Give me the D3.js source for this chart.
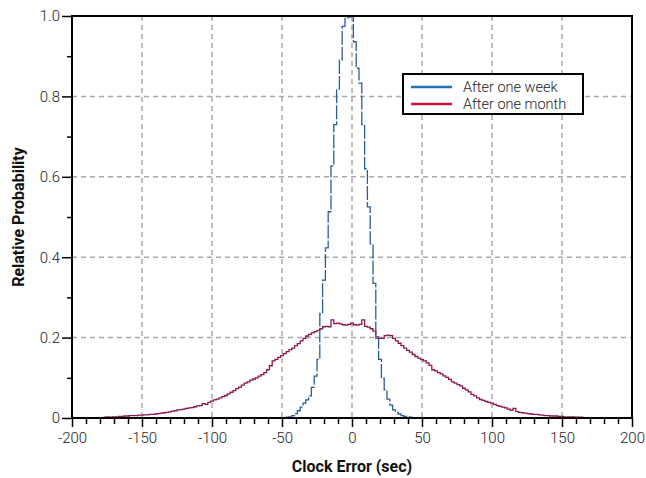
<!DOCTYPE html>
<html>
<head>
<meta charset="utf-8">
<script src="https://cdn.jsdelivr.net/npm/d3@7"></script>
<style>
  body { margin: 0; background: #fff; }
  svg { display: block; }
  .tick text { font-family: Roboto, sans-serif; font-weight: 300; font-size: 15px; fill: #222; }
</style>
</head>
<body>
<div id="chart"></div>
<script>
// histogram bins are 2 sec wide; first array value sits at the bin starting at the given left edge
const binWidth = 2;

const weekStart = -49;
const weekValues = [
    0.001, 0.002, 0.003, 0.006, 0.011, 0.018, 0.027, 0.037, 0.045, 0.055,
    0.076, 0.104, 0.146, 0.26, 0.343, 0.423, 0.513, 0.627, 0.73, 0.818,
    0.89, 0.974, 0.994, 0.997, 1.0, 0.936, 0.87, 0.833, 0.73, 0.62,
    0.525, 0.433, 0.335, 0.198, 0.146, 0.099, 0.07, 0.047, 0.032, 0.02,
    0.014, 0.01, 0.006, 0.004, 0.003, 0.002, 0.001
];

const monthStart = -179;
const monthValues = [
    0.001, 0.002, 0.003, 0.002, 0.003, 0.003, 0.004, 0.004, 0.005, 0.005,
    0.006, 0.006, 0.006, 0.007, 0.007, 0.008, 0.008, 0.009, 0.009, 0.010,
    0.011, 0.012, 0.013, 0.014, 0.015, 0.017, 0.018, 0.020, 0.021, 0.022,
    0.024, 0.025, 0.026, 0.028, 0.030, 0.031, 0.036, 0.034, 0.039, 0.042,
    0.045, 0.047, 0.050, 0.053, 0.056, 0.060, 0.064, 0.068, 0.073, 0.077,
    0.082, 0.087, 0.090, 0.094, 0.097, 0.100, 0.104, 0.108, 0.113, 0.120,
    0.130, 0.142, 0.146, 0.151, 0.155, 0.160, 0.165, 0.170, 0.174, 0.180,
    0.185, 0.192, 0.198, 0.204, 0.208, 0.212, 0.215, 0.218, 0.222, 0.227,
    0.228, 0.227, 0.244, 0.235, 0.236, 0.234, 0.232, 0.231, 0.233, 0.236,
    0.232, 0.231, 0.233, 0.244, 0.228, 0.226, 0.222, 0.216, 0.202, 0.198,
    0.198, 0.205, 0.206, 0.205, 0.198, 0.192, 0.186, 0.180, 0.174, 0.168,
    0.164, 0.158, 0.153, 0.149, 0.145, 0.142, 0.137, 0.131, 0.120, 0.117,
    0.113, 0.110, 0.105, 0.101, 0.096, 0.090, 0.087, 0.083, 0.080, 0.074,
    0.070, 0.065, 0.059, 0.055, 0.050, 0.046, 0.044, 0.041, 0.039, 0.037,
    0.034, 0.031, 0.029, 0.027, 0.025, 0.022, 0.019, 0.024, 0.016, 0.014,
    0.013, 0.012, 0.011, 0.010, 0.009, 0.009, 0.008, 0.007, 0.006, 0.006,
    0.005, 0.005, 0.005, 0.004, 0.004, 0.003, 0.003, 0.003, 0.003, 0.002,
    0.002, 0.002, 0.001
];

const xTicks = [-200, -150, -100, -50, 0, 50, 100, 150, 200];
const yTicks = [0, 0.2, 0.4, 0.6, 0.8, 1.0];
const yTickLabels = ["0", "0.2", "0.4", "0.6", "0.8", "1.0"];
const seriesNames = ["After one week", "After one month"];

const width = 646, height = 478;
const plotLeft = 72, plotRight = 632, plotTop = 16, plotBottom = 418;

const svg = d3.select("#chart")
    .append("svg")
    .attr("width", width)
    .attr("height", height);

const x = d3.scaleLinear().domain([-200, 200]).range([plotLeft, plotRight]);
const y = d3.scaleLinear().domain([0, 1]).range([plotBottom, plotTop]);

// grid
svg.append("g")
    .selectAll("line")
    .data(xTicks.slice(1, -1))
    .enter()
    .append("line")
    .attr("x1", d => x(d)).attr("x2", d => x(d))
    .attr("y1", plotTop).attr("y2", plotBottom)
    .attr("stroke", "#a9a9a9")
    .attr("stroke-width", 1.5)
    .attr("stroke-dasharray", "5,4");

svg.append("g")
    .selectAll("line")
    .data(yTicks.slice(1, -1))
    .enter()
    .append("line")
    .attr("x1", plotLeft).attr("x2", plotRight)
    .attr("y1", d => y(d)).attr("y2", d => y(d))
    .attr("stroke", "#a9a9a9")
    .attr("stroke-width", 1.5)
    .attr("stroke-dasharray", "5,4");

// step outline of a histogram
function stepPoints(start, values) {
    const pts = [[start, 0]];
    values.forEach((v, i) => pts.push([start + i * binWidth, v]));
    pts.push([start + values.length * binWidth, 0]);
    return pts;
}

const line = d3.line()
    .x(d => x(d[0]))
    .y(d => y(d[1]))
    .curve(d3.curveStepAfter);

svg.append("path")
    .datum(stepPoints(monthStart, monthValues))
    .attr("d", line)
    .attr("fill", "none")
    .attr("stroke", "#8e1650")
    .attr("stroke-width", 1.3);

svg.append("path")
    .datum(stepPoints(weekStart, weekValues))
    .attr("d", line)
    .attr("fill", "none")
    .attr("stroke", "#2a5d9c")
    .attr("stroke-width", 1.3)
    .attr("stroke-dasharray", "14,2");

// axes
const xAxis = d3.axisBottom(x)
    .tickValues(d3.range(-200, 201, 10))
    .tickSize(6)
    .tickFormat(d => xTicks.includes(d) ? d : "");

const gx = svg.append("g")
    .attr("transform", `translate(0,${plotBottom})`)
    .call(xAxis);
gx.selectAll(".tick line")
    .attr("stroke", "#000")
    .attr("stroke-width", 1.5)
    .attr("y2", d => xTicks.includes(d) ? 9 : 6);
gx.selectAll(".tick text").attr("y", 14);
gx.select(".domain").remove();

const yAxis = d3.axisLeft(y)
    .tickValues(d3.range(0, 11).map(i => i / 10))
    .tickSize(5)
    .tickFormat((d, i) => i % 2 === 0 ? yTickLabels[i / 2] : "");

const gy = svg.append("g")
    .attr("transform", `translate(${plotLeft},0)`)
    .call(yAxis);
gy.selectAll(".tick line")
    .attr("stroke", "#000")
    .attr("stroke-width", 1.5)
    .attr("x2", (d, i) => i % 2 === 0 ? -10 : -5);
gy.selectAll(".tick text").attr("x", -12);
gy.select(".domain").remove();

// frame
svg.append("rect")
    .attr("x", plotLeft).attr("y", plotTop)
    .attr("width", plotRight - plotLeft).attr("height", plotBottom - plotTop)
    .attr("fill", "none")
    .attr("stroke", "#000")
    .attr("stroke-width", 2);

// titles
svg.append("text")
    .attr("x", (plotLeft + plotRight) / 2)
    .attr("y", 472)
    .attr("text-anchor", "middle")
    .style("font-family", "Roboto, sans-serif")
    .style("font-weight", "bold")
    .style("font-size", "16px")
    .style("fill", "#111")
    .text("Clock Error (sec)");

svg.append("text")
    .attr("transform", `translate(24,${(plotTop + plotBottom) / 2}) rotate(-90)`)
    .attr("text-anchor", "middle")
    .style("font-family", "Roboto, sans-serif")
    .style("font-weight", "bold")
    .style("font-size", "16px")
    .style("fill", "#111")
    .text("Relative Probability");

// legend
const legend = svg.append("g").attr("transform", "translate(403,74)");
legend.append("rect")
    .attr("width", 180).attr("height", 40)
    .attr("fill", "#fff")
    .attr("stroke", "#000")
    .attr("stroke-width", 2);

const legendColors = ["#1b75bc", "#d0103a"];
seriesNames.forEach((name, i) => {
    legend.append("line")
        .attr("x1", 8).attr("x2", 49)
        .attr("y1", 13 + i * 17).attr("y2", 13 + i * 17)
        .attr("stroke", legendColors[i])
        .attr("stroke-width", 2.5);
    legend.append("text")
        .attr("x", 60)
        .attr("y", 18 + i * 17)
        .style("font-family", "Roboto, sans-serif")
        .style("font-weight", 300)
        .style("font-size", "14.5px")
        .style("fill", "#222")
        .text(name);
});
</script>
</body>
</html>
